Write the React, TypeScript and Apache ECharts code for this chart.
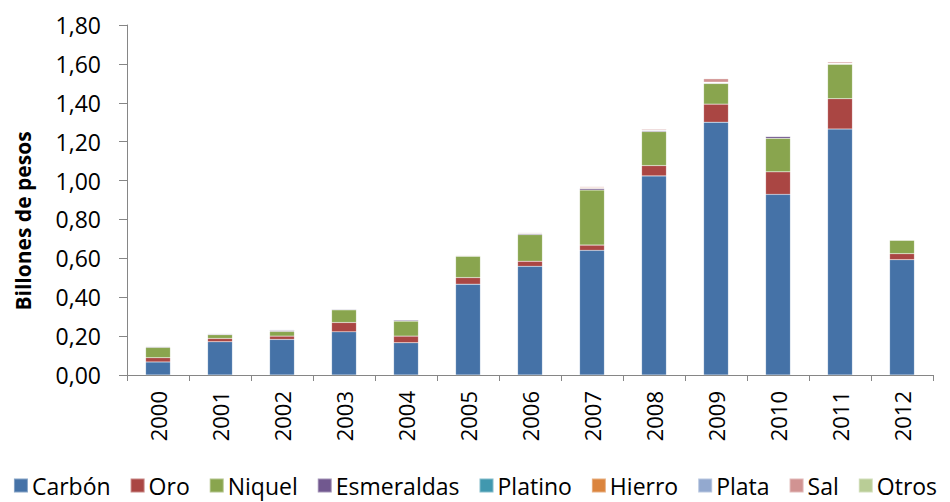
import React, { useEffect, useRef } from "react";
import * as echarts from "echarts";

const years = ["2000", "2001", "2002", "2003", "2004", "2005", "2006", "2007", "2008", "2009", "2010", "2011", "2012"];
const carbon = [0.067, 0.171, 0.183, 0.222, 0.166, 0.467, 0.559, 0.641, 1.024, 1.3, 0.929, 1.265, 0.593];
const oro = [0.022, 0.017, 0.017, 0.048, 0.034, 0.034, 0.026, 0.027, 0.053, 0.093, 0.116, 0.156, 0.031];
const niquel = [0.053, 0.019, 0.024, 0.065, 0.077, 0.11, 0.137, 0.283, 0.175, 0.106, 0.172, 0.177, 0.069];
const esmeraldas = [0.004, 0.004, 0.006, 0.004, 0.006, 0.002, 0.005, 0.008, 0.005, 0.003, 0.01, 0.002, 0.002];
const platino = [0, 0, 0, 0, 0, 0, 0, 0.001, 0.001, 0.001, 0.001, 0.001, 0];
const hierro = [0, 0, 0, 0, 0, 0.001, 0.003, 0.004, 0.001, 0.001, 0, 0.001, 0.001];
const plata = [0.002, 0.003, 0.003, 0.001, 0.002, 0.001, 0.001, 0.001, 0.001, 0.002, 0.002, 0.001, 0.001];
const sal = [0.001, 0.001, 0.001, 0.001, 0.001, 0.003, 0.003, 0.004, 0.005, 0.018, 0.001, 0.007, 0.002];
const otros = [0, 0, 0, 0, 0, 0, 0, 0, 0, 0, 0, 0, 0];

const seriesNames = ["Carbón", "Oro", "Niquel", "Esmeraldas", "Platino", "Hierro", "Plata", "Sal", "Otros"];
const seriesData = [carbon, oro, niquel, esmeraldas, platino, hierro, plata, sal, otros];
const colors = ["#4572A7", "#AA4643", "#89A54E", "#71588F", "#4198AF", "#DB843D", "#93A9CF", "#D19392", "#B9CD96"];

const FONT = "'Open Sans', Lato, sans-serif";

export default function App() {
  const ref = useRef<HTMLDivElement>(null);
  useEffect(() => {
    if (!ref.current) return;
    const chart = echarts.init(ref.current, null, { renderer: "svg" });
    chart.setOption({
      animation: false,
      color: colors,
      textStyle: { fontFamily: FONT },
      grid: { left: 127, right: 17, top: 25, bottom: 127, containLabel: false },
      legend: {
        bottom: 0,
        left: "center",
        itemWidth: 14,
        itemHeight: 14,
        itemGap: 19,
        icon: "rect",
        textStyle: { fontSize: 23, color: "#000", fontFamily: FONT, padding: [0, 0, 0, -1] },
        data: seriesNames,
      },
      xAxis: {
        type: "category",
        data: years,
        axisLine: { lineStyle: { color: "#868686", width: 1 } },
        axisTick: { show: true, length: 6, lineStyle: { color: "#868686" } },
        axisLabel: { rotate: 90, fontSize: 22, color: "#000", margin: 16, fontFamily: FONT },
      },
      yAxis: {
        type: "value",
        min: 0,
        max: 1.8,
        interval: 0.2,
        axisLine: { show: true, lineStyle: { color: "#868686", width: 1 } },
        axisTick: { show: true, length: 8, inside: false, lineStyle: { color: "#868686" } },
        splitLine: { show: false },
        axisLabel: {
          fontSize: 23,
          color: "#000",
          margin: 26,
          fontFamily: FONT,
          formatter: (v: number) => v.toFixed(2).replace(".", ","),
        },
      },
      graphic: [
        {
          type: "text",
          x: 23,
          y: 221,
          rotation: Math.PI / 2,
          style: {
            text: "Billones de pesos",
            fontSize: 21,
            fontWeight: "bold",
            fontFamily: FONT,
            fill: "#000",
            align: "center",
            verticalAlign: "middle",
          },
        },
      ],
      series: seriesNames.map((name, i) => ({
        name,
        type: "bar",
        stack: "total",
        barWidth: "40%",
        data: seriesData[i],
        itemStyle: { color: colors[i], borderColor: "rgba(255,255,255,0.35)", borderWidth: 0.5 },
      })),
    });
    return () => chart.dispose();
  }, []);
  return <div ref={ref} style={{ position: "absolute", left: 0, top: 0, width: 950, height: 502 }} />;
}
